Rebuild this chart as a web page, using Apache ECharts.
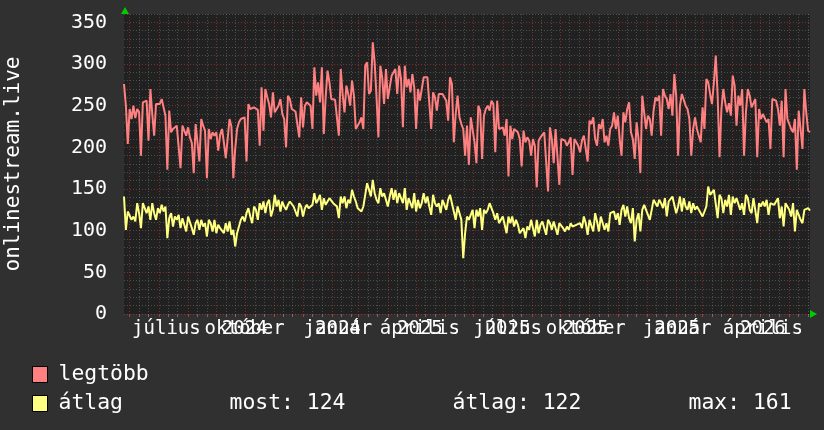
<!DOCTYPE html>
<html>
<head>
<meta charset="utf-8">
<script src="https://cdn.jsdelivr.net/npm/echarts@6/dist/echarts.min.js"></script>
<style>
html,body{margin:0;padding:0;background:#303030;}
#chart{width:824px;height:430px;}
</style>
</head>
<body>
<div id="chart"></div>
<script>
// ---- data (one sample every 2 days, starting 2024-06-25) ----
const startDate = '2024-06-25';
const stepDays = 2;

const legtobb = [
276,250,204,246,234,250,235,246,242,190,
254,255,256,208,270,240,214,252,250,252,
258,260,238,173,244,218,222,222,226,226,
175,226,228,214,224,212,205,169,228,226,
183,234,226,220,163,222,210,218,214,218,
196,215,222,206,187,210,234,225,163,198,
222,230,234,236,236,183,252,246,248,248,
248,245,202,272,220,270,260,252,236,266,
242,242,250,258,240,234,200,262,258,246,
244,243,242,212,260,224,250,254,252,250,
222,296,262,278,254,296,216,260,292,278,
258,256,257,258,214,294,264,242,274,264,
250,280,262,222,224,230,236,222,298,302,
264,268,326,302,260,212,298,284,252,294,
258,272,286,284,294,264,298,282,224,298,
272,282,266,288,272,222,270,256,270,284,
286,284,282,222,266,260,244,264,264,264,
266,256,232,284,276,206,240,262,236,228,
222,190,226,179,236,238,206,181,250,244,
186,238,246,250,244,256,252,194,256,222,
220,224,214,234,165,226,210,222,222,218,
210,177,220,206,212,208,190,210,202,152,
208,212,210,218,216,147,224,210,181,222,
222,155,210,210,208,202,206,212,167,210,
206,202,194,208,214,214,183,232,228,236,
210,202,228,222,234,206,214,202,222,226,
242,222,238,210,190,242,230,246,254,218,
210,186,230,210,169,262,242,222,238,234,
214,244,260,256,262,214,270,262,258,246,
264,238,288,262,190,250,264,262,250,246,
234,190,222,236,222,214,206,248,222,282,
278,264,252,278,310,262,188,246,270,254,
242,253,238,286,274,226,262,250,270,190,
242,270,262,248,250,258,188,246,234,240,
238,230,234,198,258,260,256,246,226,256,
188,270,234,228,222,218,234,173,244,222,
198,270,242,220,218
];

const atlag = [
141,101,123,121,113,117,111,133,121,103,
133,127,121,129,113,133,121,113,127,121,
131,123,129,91,115,121,105,117,113,119,
103,115,113,99,117,115,103,95,109,113,
101,113,105,109,93,113,109,99,113,97,
107,103,101,97,109,99,111,95,101,81,
97,105,113,117,111,121,127,117,109,129,
125,113,133,125,135,121,133,137,117,125,
143,129,137,123,135,129,125,131,135,133,
129,131,117,133,129,117,127,131,127,125,
131,145,133,137,143,125,139,131,133,139,
141,133,135,129,115,141,133,141,127,137,
133,149,141,135,127,125,123,129,143,157,
149,141,161,145,137,133,151,141,145,137,
129,141,151,137,149,133,145,147,133,151,
125,139,133,127,145,123,137,127,133,145,
133,141,129,119,143,133,129,133,121,137,
139,125,137,143,133,135,113,129,131,113,
67,97,117,113,115,125,103,125,117,127,
101,125,121,125,133,133,121,113,121,109,
113,117,117,97,117,109,117,105,113,107,
97,95,103,91,105,101,113,111,93,113,
97,107,111,113,95,113,109,101,111,113,
95,109,111,103,99,105,101,109,105,103,
107,105,109,103,117,109,95,113,111,99,
121,111,99,117,115,101,109,99,121,119,
123,113,121,107,125,131,117,129,115,109,
127,87,113,121,99,125,131,125,127,113,
111,137,135,129,137,133,127,139,117,135,
133,141,143,121,129,141,123,139,129,125,
135,121,133,125,129,125,123,117,123,129,
153,143,141,149,151,115,143,139,121,137,
129,143,119,141,133,139,141,125,133,119,
143,139,125,121,139,137,109,133,129,135,
129,137,119,133,135,131,129,139,115,129,
105,133,129,125,117,133,99,125,127,113,
109,125,123,127,124
];

const seriesNames = ['legtöbb', 'átlag'];
const statTexts = ['most: 124', 'átlag: 122', 'max: 161'];
const axisTitle = 'onlinestream.live';
const yTickValues = [0, 50, 100, 150, 200, 250, 300, 350];
const monthLabels = ['július', 'október', 'január', 'április', 'július', 'október', 'január', 'április'];
const yearLabels  = ['', '2024', '2024', '2025', '2025', '2025', '2025', '2026'];
const labelDates  = ['2024-08-09', '2024-10-31', '2025-02-07', '2025-05-05', '2025-08-06', '2025-10-28', '2026-02-02', '2026-05-04'];

// ---- helpers ----
const FONT = 'DejaVu Sans Mono';
const DAY = 86400000;
const t0 = Date.parse(startDate + 'T00:00:00Z');
const dayOf = s => Math.round((Date.parse(s + 'T00:00:00Z') - t0) / DAY);
const xMax = (legtobb.length - 1) * stepDays;
const yMax = 360;

// month-start grid (major) and 10-day grid (minor)
const monthDays = [], minorDays = [];
for (let y = 2024, m = 5; y < 2027; ) {
  const d = Math.round((Date.UTC(y, m, 1) - t0) / DAY);
  [d, d + 10, d + 20].forEach((v, i) => {
    if (v > 0 && v <= xMax) (i === 0 ? monthDays : minorDays).push(v);
  });
  m++; if (m > 11) { m = 0; y++; }
}
const minorY = [];
for (let v = 10; v <= yMax; v += 10) if (v % 50 !== 0) minorY.push(v);

const labelDays = labelDates.map(dayOf);
const yearDays = labelDays.filter((d, i) => yearLabels[i] !== '');
const lookup = (days, labels) => v => {
  const i = days.indexOf(Math.round(v));
  return i >= 0 ? labels[i] : '';
};

const redGrid = { color: 'rgba(255,70,70,0.42)', width: 1, type: [1, 2] };
const grayGrid = { color: 'rgba(170,170,170,0.32)', width: 1, type: [1, 2] };

const toPairs = arr => arr.map((v, i) => [i * stepDays, v]);

const xLabelStyle = { color: '#ffffff', fontFamily: FONT, fontSize: 19, margin: 6,
  showMinLabel: true, showMaxLabel: true, hideOverlap: false };

const chart = echarts.init(document.getElementById('chart'), null, { renderer: 'canvas' });
chart.setOption({
  animation: false,
  backgroundColor: '#303030',
  grid: { left: 124, top: 14, width: 686, height: 300, show: true, backgroundColor: '#212121',
    borderWidth: 0, containLabel: false, outerBoundsMode: 'none' },
  xAxis: [
    { type: 'value', min: 0, max: xMax, position: 'bottom',
      axisLine: { show: false },
      axisTick: { show: true, customValues: minorDays, length: 3, lineStyle: { color: 'rgba(170,170,170,0.5)' } },
      axisLabel: { show: false },
      splitLine: { show: true, lineStyle: grayGrid } },
    { type: 'value', min: 0, max: xMax, position: 'bottom',
      axisLine: { show: false },
      axisTick: { show: true, customValues: monthDays, length: 3, lineStyle: { color: 'rgba(255,70,70,0.6)' } },
      axisLabel: Object.assign({ show: true, customValues: labelDays, formatter: lookup(labelDays, monthLabels) }, xLabelStyle),
      splitLine: { show: true, lineStyle: redGrid } },
    { type: 'value', min: 0, max: xMax, position: 'bottom',
      axisLine: { show: false },
      axisTick: { show: false, customValues: yearDays },
      axisLabel: Object.assign({ show: true, customValues: yearDays, formatter: lookup(labelDays, yearLabels) }, xLabelStyle),
      splitLine: { show: false } }
  ],
  yAxis: [
    { type: 'value', min: 0, max: yMax, position: 'left',
      axisLine: { show: false },
      axisTick: { show: false, customValues: minorY },
      axisLabel: { show: false },
      splitLine: { show: true, lineStyle: grayGrid } },
    { type: 'value', min: 0, max: yMax, position: 'left',
      name: axisTitle, nameLocation: 'middle', nameGap: 100,
      nameTextStyle: { color: '#ffffff', fontFamily: FONT, fontSize: 21 },
      axisLine: { show: false },
      axisTick: { show: false, customValues: yTickValues },
      axisLabel: { show: true, customValues: yTickValues, color: '#ffffff', fontFamily: FONT, fontSize: 20, margin: 17 },
      splitLine: { show: true, lineStyle: redGrid } }
  ],
  legend: {
    orient: 'vertical', left: 27, top: 359,
    itemWidth: 15, itemHeight: 16, itemGap: 8, icon: 'rect',
    selectedMode: false,
    itemStyle: { borderColor: '#000000', borderWidth: 1 },
    data: seriesNames,
    formatter: name => name === seriesNames[1]
      ? '{n|' + name + '}{a|' + statTexts[0] + '}{b|' + statTexts[1] + '}{c|' + statTexts[2] + '}'
      : '{n|' + name + '}',
    textStyle: {
      color: '#ffffff', fontFamily: FONT, fontSize: 21.4, padding: [0, 0, 0, 6],
      rich: {
        n: { color: '#ffffff', fontFamily: FONT, fontSize: 21.4, width: 171 },
        a: { color: '#ffffff', fontFamily: FONT, fontSize: 21.4, width: 223 },
        b: { color: '#ffffff', fontFamily: FONT, fontSize: 21.4, width: 236 },
        c: { color: '#ffffff', fontFamily: FONT, fontSize: 21.4 }
      }
    }
  },
  series: [
    { name: seriesNames[0], type: 'line', xAxisIndex: 1, yAxisIndex: 1,
      data: toPairs(legtobb), symbol: 'none', showSymbol: false,
      lineStyle: { color: '#ff8080', width: 2 }, itemStyle: { color: '#ff8080' }, z: 3 },
    { name: seriesNames[1], type: 'line', xAxisIndex: 1, yAxisIndex: 1,
      data: toPairs(atlag), symbol: 'none', showSymbol: false,
      lineStyle: { color: '#ffff80', width: 2 }, itemStyle: { color: '#ffff80' }, z: 3 }
  ],
  graphic: [
    { type: 'polygon', shape: { points: [[121, 14], [129, 14], [125, 7]] }, style: { fill: '#00cc00' }, z: 10 },
    { type: 'polygon', shape: { points: [[810, 310], [810, 318], [817, 314]] }, style: { fill: '#00cc00' }, z: 10 }
  ]
});
</script>
</body>
</html>
